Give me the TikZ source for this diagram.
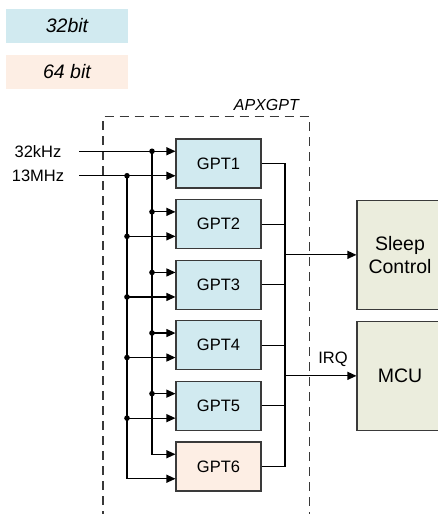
\documentclass[tikz,border=0pt]{standalone}
\usepackage{fontspec}
\setmainfont{Liberation Sans}
\usetikzlibrary{arrows.meta,calc}
\definecolor{cblue}{HTML}{D1EAF0}
\definecolor{corange}{HTML}{FDEEE4}
\definecolor{cgreen}{HTML}{EBEDDD}
\definecolor{cborder}{HTML}{3A3A3A}
\begin{document}
\begin{tikzpicture}[x=1pt,y=-1pt,
  legendbox/.style={draw=none,minimum width=122pt,minimum height=34pt,inner sep=0pt,font=\fontsize{19.5}{22}\selectfont\itshape},
  gptbox/.style={draw=cborder,line width=1.1pt,fill=cblue,minimum width=85pt,minimum height=49pt,inner sep=0pt,font=\fontsize{16.5}{19}\selectfont},
  sysbox/.style={draw=cborder,line width=1.1pt,fill=cgreen,minimum width=86pt,minimum height=108.5pt,inner sep=0pt,align=center,font=\fontsize{19.5}{23.5}\selectfont},
  lbl/.style={inner sep=0pt,font=\fontsize{16.5}{19}\selectfont},
  wire/.style={line width=1.15pt,black},
  arr/.style={wire,-{Triangle[length=9pt,width=8pt]}},
  dot/.style={circle,fill=black,inner sep=0pt,minimum size=5.6pt},
  dashbox/.style={line width=1.1pt,black!78,dash pattern=on 9pt off 6pt}
]
\useasboundingbox (0,0) rectangle (438,514);
\clip (0,0) rectangle (438,514);

% legend
\node[legendbox,fill=cblue] (l32) at (67,26) {32bit};
\node[legendbox,fill=corange] (l64) at (67,72) {64 bit};

% APXGPT dashed frame
\draw[dashbox] (103,520) -- (103,116.7) -- (309.3,116.7) -- (309.3,520);
\node[anchor=base east,inner sep=0pt,font=\fontsize{16}{19}\selectfont\itshape] (apx) at (299,110.7) {APXGPT};

% GPT boxes
\node[gptbox] (g1) at (218.5,163.5) {GPT1};
\node[gptbox] (g2) at (218.5,224.1) {GPT2};
\node[gptbox] (g3) at (218.5,284.7) {GPT3};
\node[gptbox] (g4) at (218.5,345.3) {GPT4};
\node[gptbox] (g5) at (218.5,405.9) {GPT5};
\node[gptbox,fill=corange] (g6) at (218.5,466.5) {GPT6};

% system boxes
\node[sysbox] (sleep) at (400,254.85) {Sleep\\Control};
\node[sysbox] (mcu) at (400,375.85) {MCU};

% bus reference coordinates
\coordinate (bus32) at (152,0);
\coordinate (bus13) at (127,0);
\coordinate (obus) at (285,0);

\foreach \k in {1,...,6}{
  \coordinate (a\k) at ($(g\k.west)+(0,-12.25)$);
  \coordinate (b\k) at ($(g\k.west)+(0,12.25)$);
}

% inputs
\coordinate (in32) at (79,151.25);
\coordinate (in13) at (79,175.75);
\node[lbl] (t32) at (38,151.25) {32kHz};
\node[lbl] (t13) at (38,175.75) {13MHz};

\draw[arr] (in32) -- (a1);
\draw[arr] (in13) -- (b1);

% clock buses
\draw[arr] (a1 -| bus32) -- (a6 -| bus32) -- (a6);
\draw[arr] (b1 -| bus13) -- (b6 -| bus13) -- (b6);
\foreach \k in {2,...,5}{
  \draw[arr] (a\k -| bus32) -- (a\k);
  \draw[arr] (b\k -| bus13) -- (b\k);
}
\foreach \k in {1,...,5}{
  \node[dot] (da\k) at (a\k -| bus32) {};
  \node[dot] (db\k) at (b\k -| bus13) {};
}

% output bus
\draw[wire] (g1.east) -- (g1.east -| obus) -- (g6.east -| obus) -- (g6.east);
\foreach \k in {2,...,5}{
  \draw[wire] (g\k.east) -- (g\k.east -| obus);
}
\draw[arr] (sleep.west -| obus) -- (sleep.west);
\draw[arr] (mcu.west -| obus) -- (mcu.west);
\node[lbl] (irq) at (333,359) {IRQ};
\end{tikzpicture}
\end{document}
